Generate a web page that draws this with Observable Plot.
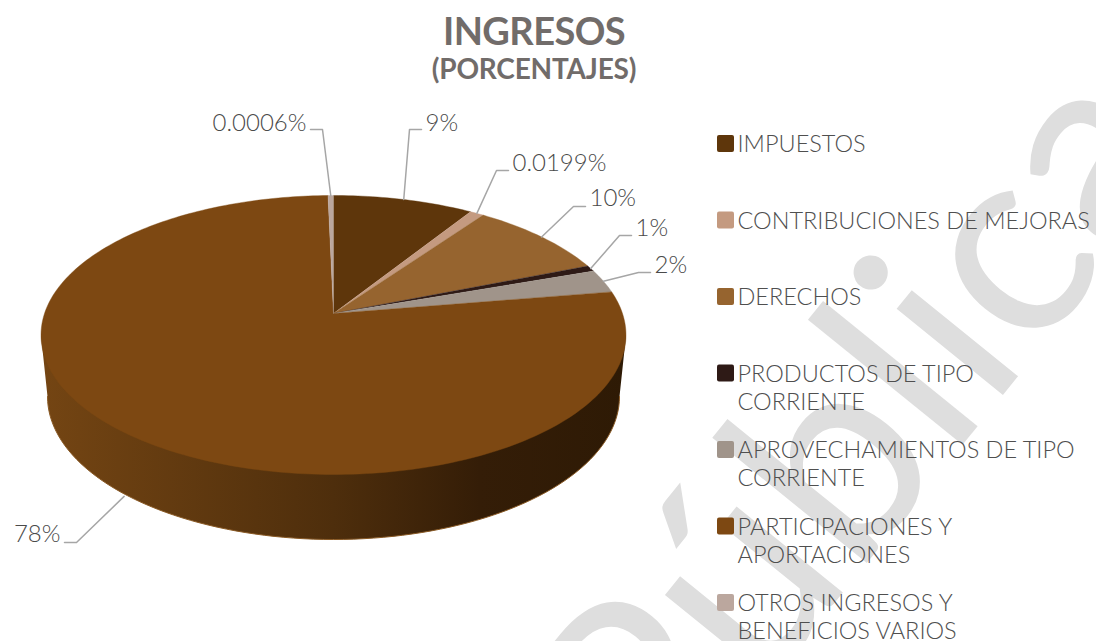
<!DOCTYPE html>
<html><head><meta charset="utf-8">
<script src="https://cdn.jsdelivr.net/npm/d3@7"></script>
<script src="https://cdn.jsdelivr.net/npm/@observablehq/plot@0.6"></script>
<style>
html,body{margin:0;padding:0;background:#fff;overflow:hidden}
#title{width:1068px;height:90px;text-align:center;font-family:Lato,sans-serif;font-weight:700;color:#716c6a;box-sizing:border-box;padding-top:8px}
#title .a{font-size:38px;line-height:44px;letter-spacing:-0.6px}
#title .b{font-size:28px;line-height:33px;letter-spacing:-0.2px}
</style></head><body>
<div id="title"><div class="a">INGRESOS</div><div class="b">(PORCENTAJES)</div></div>
<div id="chart"></div>
<script>
// Data
const categories = ["IMPUESTOS","CONTRIBUCIONES DE MEJORAS","DERECHOS","PRODUCTOS DE TIPO CORRIENTE","APROVECHAMIENTOS DE TIPO CORRIENTE","PARTICIPACIONES Y APORTACIONES","OTROS INGRESOS Y BENEFICIOS VARIOS"];
const legendLines = ["IMPUESTOS","CONTRIBUCIONES DE MEJORAS","DERECHOS","PRODUCTOS DE TIPO\nCORRIENTE","APROVECHAMIENTOS DE TIPO\nCORRIENTE","PARTICIPACIONES Y\nAPORTACIONES","OTROS INGRESOS Y\nBENEFICIOS VARIOS"];
const drawnShares = [9.0, 0.9, 9.1, 0.7, 2.7, 77.25, 0.35];
const dataLabels = ["9%","0.0199%","10%","1%","2%","78%","0.0006%"];
const colors = ["#5e360b","#c49a80","#96642f","#2e1a16","#a0948a","#7d4812","#bba79e"];

// Layout of the pie (page pixels)
const cx = 333, apexY = 313, a = 136.2, b = 289, k = 0.154;
const bottom = {cx: 333, cy: 396, rx: 286, ry: 143};
const elbowX = [409,496,573,619,638,76,322];
const elbowY = [129,170,206,235,272,542,129];
const labelY = [123,163,198,228,265,534,123];
const anchorDrop = [0,0,0,0,0,64,0];
const tailSide = [1,1,1,1,1,-1,-1];
const legendY0 = 143.5, legendStep = 76.5, legendX = 737, swatch = 17;

const rim = th => {
  const u = Math.sin(th), v = Math.cos(th), w = 1 + k*v;
  return [cx + b*u/w, apexY - a*v/w];
};
const total = d3.sum(drawnShares);
let run = 0;
const slices = categories.map((name,i) => {
  const start = run/total*2*Math.PI; run += drawnShares[i];
  const end = run/total*2*Math.PI;
  return {name,i,start,end,mid:(start+end)/2};
});
const wedgePts = slices.flatMap(s => {
  const n = Math.max(2, Math.ceil((s.end-s.start)/0.02));
  const pts = [{name:s.name,x:cx,y:apexY}];
  for (let j=0;j<=n;j++){const [x,y]=rim(s.start+(s.end-s.start)*j/n);pts.push({name:s.name,x,y});}
  return pts;
});
const bottomArc = d3.range(0,181,2).map(d => {
  const t = d*Math.PI/180;
  return {x:bottom.cx-bottom.rx*Math.cos(t), y:bottom.cy+bottom.ry*Math.sin(t)};
});
const wallPts = [{x:cx-292.5,y:335},...bottomArc,{x:cx+292.5,y:335}];
const leaderPts = slices.flatMap((s,i) => {
  const [x,y] = rim(s.mid);
  return [{i,x,y:y+anchorDrop[i]},{i,x:elbowX[i],y:elbowY[i]},{i,x:elbowX[i]+12*tailSide[i],y:elbowY[i]}];
});
const labelRows = slices.map((s,i) => ({text:dataLabels[i],x:elbowX[i]+16*tailSide[i],y:labelY[i],anchor:tailSide[i]>0?"start":"end"}));
const legendRows = categories.map((name,i) => ({name,text:legendLines[i],y:legendY0+legendStep*i}));

const plot = Plot.plot({
  width:1096,height:551,margin:0,
  x:{domain:[0,1096],axis:null},
  y:{domain:[641,90],axis:null},
  color:{domain:categories,range:colors},
  style:{fontFamily:"Lato,sans-serif",background:"#fff"},
  marks:[
    Plot.text(["Pública"],{x:()=>860,y:()=>433,text:d=>d,rotate:-51,fontSize:270,fill:"#dedede",fontFamily:"Lato,sans-serif",textAnchor:"middle"}),
    Plot.line(wallPts,{x:"x",y:"y",fill:"url(#wall)",stroke:"none"}),
    Plot.line(bottomArc,{x:"x",y:"y",stroke:"#8a5a25",strokeWidth:1}),
    Plot.line(wedgePts,{x:"x",y:"y",z:"name",fill:"name",stroke:"name",strokeWidth:0.4}),
    Plot.line(leaderPts,{x:"x",y:"y",z:"i",stroke:"#a6a6a6",strokeWidth:1.5}),
    Plot.text(labelRows,{x:"x",y:"y",text:"text",textAnchor:"start",filter:d=>d.anchor==="start",fontSize:24,fontWeight:300,fill:"#4a4a4a"}),
    Plot.text(labelRows,{x:"x",y:"y",text:"text",textAnchor:"end",filter:d=>d.anchor==="end",fontSize:24,fontWeight:300,fill:"#4a4a4a"}),
    Plot.rect(legendRows,{x1:()=>legendX-20,x2:()=>legendX-20+swatch,y1:d=>d.y-swatch/2,y2:d=>d.y+swatch/2,fill:"name",rx:2}),
    Plot.text(legendRows,{x:()=>legendX,y:d=>d.y-14,dy:2,text:"text",textAnchor:"start",lineAnchor:"top",lineHeight:1.2,fontSize:23.5,fontWeight:300,fill:"#4f4f4f"})
  ]
});
const g = d3.select(plot).insert("defs",":first-child").append("linearGradient").attr("id","wall");
[[0,"#744513"],[0.5,"#4e2e0c"],[0.75,"#341d07"],[1,"#2e1a05"]].forEach(([o,c])=>g.append("stop").attr("offset",o).attr("stop-color",c));
document.getElementById("chart").append(plot);
</script>
</body></html>
